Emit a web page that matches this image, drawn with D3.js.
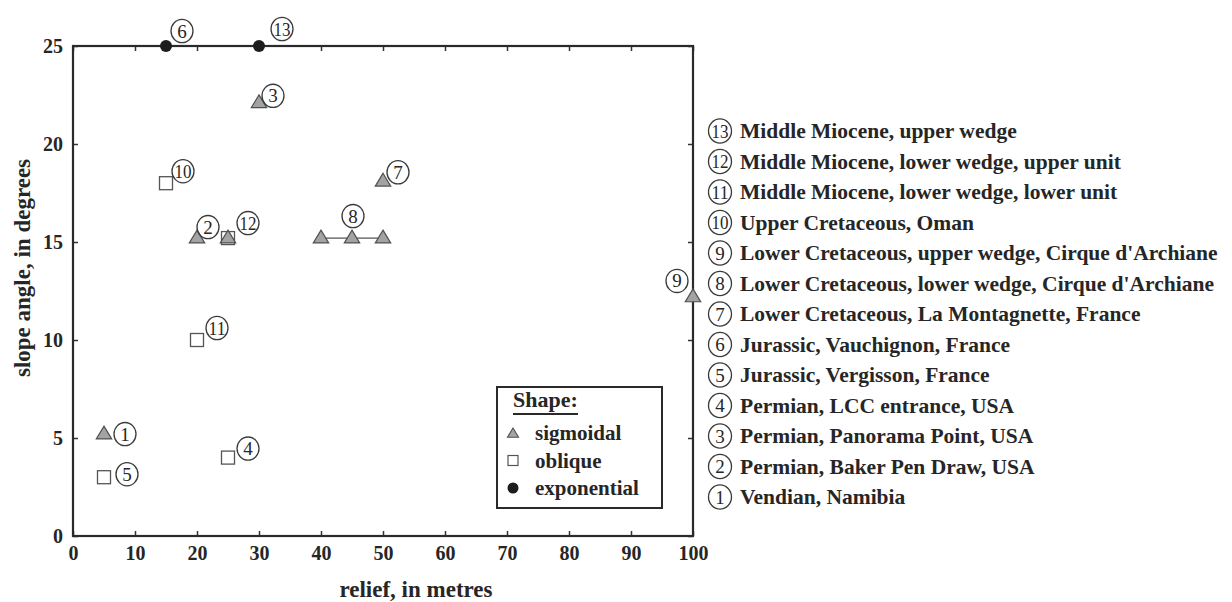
<!DOCTYPE html>
<html>
<head lang="en">
    <meta charset="UTF-8">
    <title>slope angle vs relief</title>
    <script src="https://cdn.jsdelivr.net/npm/d3@7/dist/d3.min.js"></script>
    <style>
        body{ margin:0; background:#fff; }
        text{ font-family:"Liberation Serif","Times New Roman",serif; fill:#262626; }
        .bold{ font-weight:bold; }
        .tick line{ stroke:#333; stroke-width:1.5px; }
        .tick text{ font-size:20px; font-weight:bold; }
        .domain{ display:none; }
    </style>
</head>
<body>
    <div id="tu1"></div>
</body>
</html>
<script>
    // sites, numbered as in the list on the right
    var siteIds=[13,12,11,10,9,8,7,6,5,4,3,2,1];
    var siteNames=[
        'Middle Miocene, upper wedge',
        'Middle Miocene, lower wedge, upper unit',
        'Middle Miocene, lower wedge, lower unit',
        'Upper Cretaceous, Oman',
        "Lower Cretaceous, upper wedge, Cirque d'Archiane",
        "Lower Cretaceous, lower wedge, Cirque d'Archiane",
        'Lower Cretaceous, La Montagnette, France',
        'Jurassic, Vauchignon, France',
        'Jurassic, Vergisson, France',
        'Permian, LCC entrance, USA',
        'Permian, Panorama Point, USA',
        'Permian, Baker Pen Draw, USA',
        'Vendian, Namibia'
    ];

    // oblique profiles (squares)
    var obliqueSite=[4,5,10,11,12];
    var obliqueRelief=[25,5,15,20,25];
    var obliqueSlope=[4,3,18,10,15.2];

    // sigmoidal profiles (triangles)
    var sigmoidalSite=[1,2,3,7,8,8,8,9,12];
    var sigmoidalRelief=[5,20,30,50,40,45,50,100,25];
    var sigmoidalSlope=[5.2,15.2,22.1,18.1,15.2,15.2,15.2,12.2,15.2];

    // exponential profiles (dots)
    var exponentialSite=[6,13];
    var exponentialRelief=[15,30];
    var exponentialSlope=[25,25];

    var xTicks=[0,10,20,30,40,50,60,70,80,90,100];
    var yTicks=[0,5,10,15,20,25];
    var shapeNames=['sigmoidal','oblique','exponential'];

    // where each circled number sits, relative to its point (px)
    var labelOffset={
        1:[21,0], 2:[11,-11], 3:[14,-7], 4:[20,-9], 5:[23,-3], 6:[16,-15], 7:[15,-9],
        8:[1,-22], 9:[-16,-16], 10:[17,-12], 11:[20,-12], 12:[20,-15], 13:[23,-17]
    };
    var labelAt={1:[5,5.2],2:[20,15.2],3:[30,22.1],4:[25,4],5:[5,3],6:[15,25],7:[50,18.1],
        8:[45,15.2],9:[100,12.2],10:[15,18],11:[20,10],12:[25,15.2],13:[30,25]};

    function zip(site,xs,ys){
        return site.map(function(s,i){ return {site:s,x:xs[i],y:ys[i]}; });
    }

    function circled(g,n,r){
        g.append('ellipse').attr('rx',r).attr('ry',r+0.6)
            .style('fill','none').style('stroke','#3a3a3a').style('stroke-width',1.3);
        var t=g.append('text').attr('text-anchor','middle').attr('y',6.5)
            .style('font-size','19px').text(n);
        if(n>9) t.attr('textLength',17).attr('lengthAdjust','spacingAndGlyphs');
    }

    function triPath(s){
        return 'M0,'+(-s*0.5)+'L'+(s*0.55)+','+(s*0.42)+'L'+(-s*0.55)+','+(s*0.42)+'Z';
    }

    function drawChart(divname){
        var width=1232, height=602;
        var left=73, right=693, top=46, bottom=536;
        var svg=d3.select('#'+divname).append('svg')
                .attr('width',width).attr('height',height);

        var x=d3.scaleLinear().domain([0,100]).range([left,right]);
        var y=d3.scaleLinear().domain([0,25]).range([bottom,top]);

        svg.append('g').attr('transform','translate(0,'+bottom+')')
            .call(d3.axisBottom(x).tickValues(xTicks).tickSize(-5).tickPadding(10));
        svg.append('g').attr('transform','translate('+left+',0)')
            .call(d3.axisLeft(y).tickValues(yTicks).tickSize(-5).tickPadding(10));
        svg.append('g').attr('transform','translate(0,'+top+')')
            .call(d3.axisTop(x).tickValues(xTicks).tickSize(-5).tickFormat(''));
        svg.append('g').attr('transform','translate('+right+',0)')
            .call(d3.axisRight(y).tickValues(yTicks).tickSize(-5).tickFormat(''));

        svg.append('rect').attr('x',left).attr('y',top)
            .attr('width',right-left).attr('height',bottom-top)
            .style('fill','none').style('stroke','#2a2a2a').style('stroke-width',2.2);

        svg.append('text').attr('class','bold').attr('text-anchor','middle')
            .attr('x',416).attr('y',597).style('font-size','23px').text('relief, in metres');
        svg.append('text').attr('class','bold').attr('text-anchor','middle')
            .attr('transform','translate(30,268) rotate(-90)')
            .style('font-size','23px').text('slope angle, in degrees');

        // site 8 is a range of reliefs: join its triangles
        var s8=zip(sigmoidalSite,sigmoidalRelief,sigmoidalSlope).filter(function(d){return d.site==8;});
        svg.append('line')
            .attr('x1',x(d3.min(s8,function(d){return d.x;}))).attr('x2',x(d3.max(s8,function(d){return d.x;})))
            .attr('y1',y(s8[0].y)).attr('y2',y(s8[0].y))
            .style('stroke','#555').style('stroke-width',1.3);

        svg.selectAll('rect.obl').data(zip(obliqueSite,obliqueRelief,obliqueSlope)).enter()
            .append('rect').attr('class','obl')
            .attr('x',function(d){return x(d.x)-6.5;}).attr('y',function(d){return y(d.y)-6.5;})
            .attr('width',13).attr('height',13)
            .style('fill','#fff').style('stroke','#555').style('stroke-width',1.3);

        svg.selectAll('path.sig').data(zip(sigmoidalSite,sigmoidalRelief,sigmoidalSlope)).enter()
            .append('path').attr('class','sig')
            .attr('transform',function(d){return 'translate('+x(d.x)+','+(y(d.y)-1)+')';})
            .attr('d',triPath(14))
            .style('fill','#a3a3a3').style('stroke','#505050').style('stroke-width',1.2);

        svg.selectAll('circle.exp').data(zip(exponentialSite,exponentialRelief,exponentialSlope)).enter()
            .append('circle').attr('class','exp')
            .attr('cx',function(d){return x(d.x);}).attr('cy',function(d){return y(d.y);})
            .attr('r',6).style('fill','#1c1c1c');

        // circled numbers next to points
        siteIds.forEach(function(n){
            var p=labelAt[n], o=labelOffset[n];
            var g=svg.append('g').attr('transform','translate('+(x(p[0])+o[0])+','+(y(p[1])+o[1])+')');
            circled(g,n,11);
        });

        // shape legend
        var box=svg.append('g').attr('transform','translate(497,387)');
        box.append('rect').attr('width',165).attr('height',121)
            .style('fill','#fff').style('stroke','#2a2a2a').style('stroke-width',2);
        box.append('text').attr('class','bold').attr('x',16).attr('y',20)
            .style('font-size','22px').text('Shape:');
        box.append('line').attr('x1',16).attr('x2',81).attr('y1',27).attr('y2',27)
            .style('stroke','#2a2a2a').style('stroke-width',2);
        var rows=d3.scalePoint().domain(shapeNames).range([46,101]);
        shapeNames.forEach(function(s){
            var g=box.append('g').attr('transform','translate(16,'+rows(s)+')');
            if(s=='sigmoidal') g.append('path').attr('d',triPath(10))
                .style('fill','#a3a3a3').style('stroke','#505050').style('stroke-width',1.1);
            if(s=='oblique') g.append('rect').attr('x',-5).attr('y',-5).attr('width',10).attr('height',10)
                .style('fill','#fff').style('stroke','#555').style('stroke-width',1.2);
            if(s=='exponential') g.append('circle').attr('r',5.5).style('fill','#1c1c1c');
            g.append('text').attr('class','bold').attr('x',22).attr('y',7)
                .style('font-size','21px').text(s);
        });

        // site list
        var list=d3.scalePoint().domain(siteIds).range([131,497]);
        siteIds.forEach(function(n,i){
            var g=svg.append('g').attr('transform','translate(720,'+list(n)+')');
            circled(g,n,11.5);
            g.append('text').attr('class','bold').attr('x',20).attr('y',7)
                .style('font-size','21.5px').text(siteNames[i]);
        });
    }
    drawChart('tu1');
</script>
